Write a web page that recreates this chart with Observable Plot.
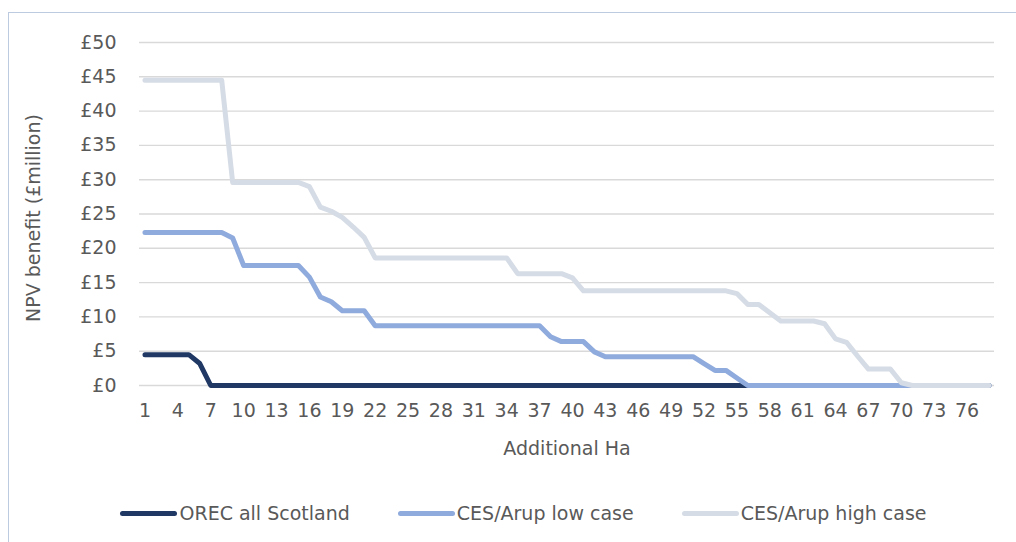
<!DOCTYPE html>
<html>
<head>
<meta charset="utf-8">
<script src="https://cdn.jsdelivr.net/npm/d3@7"></script>
<script src="https://cdn.jsdelivr.net/npm/@observablehq/plot@0.6"></script>
<style>
  html, body { margin: 0; padding: 0; background: #fff; overflow: hidden; width: 1016px; height: 542px; }
  #frame { position: absolute; left: 8px; top: 12px; width: 1100px; height: 600px;
           border-left: 1px solid #bccbe0; border-top: 1px solid #bccbe0; }
  #chart { position: absolute; left: 0; top: 0; }
  #legend { position: absolute; left: 8px; width: 1031px; top: 502px; display: flex; justify-content: center;
            gap: 48px; font-family: "DejaVu Sans", sans-serif; font-size: 19px; color: #595959; }
  .item { display: flex; align-items: center; white-space: nowrap; }
  .sw { display: inline-block; width: 57px; height: 5px; border-radius: 3px; margin-right: 2px; }
</style>
</head>
<body>
<div id="frame"></div>
<div id="chart"></div>
<div id="legend"></div>
<script>
// Categories: additional hectares
const categories = [1,2,3,4,5,6,7,8,9,10,11,12,13,14,15,16,17,18,19,20,21,22,23,24,25,26,27,28,29,30,31,32,33,34,35,36,37,38,39,40,41,42,43,44,45,46,47,48,49,50,51,52,53,54,55,56,57,58,59,60,61,62,63,64,65,66,67,68,69,70,71,72,73,74,75,76,77,78];
const xTickLabels = [1,4,7,10,13,16,19,22,25,28,31,34,37,40,43,46,49,52,55,58,61,64,67,70,73,76];
const yTickLabels = [0,5,10,15,20,25,30,35,40,45,50];
const seriesNames = ["OREC all Scotland", "CES/Arup low case", "CES/Arup high case"];
const seriesColors = ["#203864", "#8faadc", "#d6dce5"];

// NPV benefit (£million)
const orecAllScotland = [4.5,4.5,4.5,4.5,4.5,3.2,0,0,0,0,0,0,0,0,0,0,0,0,0,0,0,0,0,0,0,0,0,0,0,0,0,0,0,0,0,0,0,0,0,0,0,0,0,0,0,0,0,0,0,0,0,0,0,0,0,0,0,0,0,0,0,0,0,0,0,0,0,0,0,0,0,0,0,0,0,0,0,0];
const cesArupLow = [22.3,22.3,22.3,22.3,22.3,22.3,22.3,22.3,21.5,17.5,17.5,17.5,17.5,17.5,17.5,15.8,12.9,12.2,10.9,10.9,10.9,8.7,8.7,8.7,8.7,8.7,8.7,8.7,8.7,8.7,8.7,8.7,8.7,8.7,8.7,8.7,8.7,7.1,6.4,6.4,6.4,4.9,4.2,4.2,4.2,4.2,4.2,4.2,4.2,4.2,4.2,3.2,2.2,2.2,1.1,0,0,0,0,0,0,0,0,0,0,0,0,0,0,0,0,0,0,0,0,0,0,0];
const cesArupHigh = [44.5,44.5,44.5,44.5,44.5,44.5,44.5,44.5,29.6,29.6,29.6,29.6,29.6,29.6,29.6,29.0,26.0,25.4,24.5,23.1,21.6,18.6,18.6,18.6,18.6,18.6,18.6,18.6,18.6,18.6,18.6,18.6,18.6,18.6,16.3,16.3,16.3,16.3,16.3,15.7,13.8,13.8,13.8,13.8,13.8,13.8,13.8,13.8,13.8,13.8,13.8,13.8,13.8,13.8,13.4,11.8,11.8,10.6,9.4,9.4,9.4,9.4,9.0,6.8,6.3,4.3,2.4,2.4,2.4,0.4,0,0,0,0,0,0,0,0];

const allSeries = [orecAllScotland, cesArupLow, cesArupHigh];
const tables = allSeries.map(vals => categories.map((c, i) => ({x: c, y: vals[i]})));

const W = 1016, H = 470;
const chart = Plot.plot({
  width: W,
  height: H,
  marginLeft: 139,
  marginRight: 22,
  marginTop: 42,
  marginBottom: 85,
  style: {fontFamily: "'DejaVu Sans', sans-serif", fontSize: "19px", color: "#595959", background: "transparent"},
  x: {type: "point", domain: categories, padding: 0.5},
  y: {domain: [0, 50]},
  marks: [
    Plot.gridY(yTickLabels, {stroke: "#d9d9d9", strokeOpacity: 1, strokeWidth: 1.4}),
    Plot.axisY(yTickLabels, {tickSize: 0, tickPadding: 23, tickFormat: d => "£" + d, label: null, fill: "#595959"}),
    Plot.axisX(xTickLabels, {tickSize: 0, tickPadding: 18, label: null, fill: "#595959"}),
    Plot.text(["NPV benefit (£million)"], {frameAnchor: "left", text: d => d, rotate: -90, dx: -106, dy: 4, textAnchor: "middle", lineAnchor: "middle", fill: "#595959", fontSize: 19}),
    Plot.text(["Additional Ha"], {frameAnchor: "bottom", text: d => d, dy: 63, textAnchor: "middle", lineAnchor: "middle", fill: "#595959", fontSize: 19}),
    ...tables.map((t, k) => Plot.line(t, {x: "x", y: "y", stroke: seriesColors[k], strokeWidth: 5, strokeLinecap: "round", strokeLinejoin: "round"}))
  ]
});
document.getElementById("chart").appendChild(chart);

const legend = document.getElementById("legend");
seriesNames.forEach((name, k) => {
  const item = document.createElement("div");
  item.className = "item";
  const sw = document.createElement("span");
  sw.className = "sw";
  sw.style.background = seriesColors[k];
  const label = document.createElement("span");
  label.textContent = name;
  item.appendChild(sw);
  item.appendChild(label);
  legend.appendChild(item);
});
</script>
</body>
</html>
